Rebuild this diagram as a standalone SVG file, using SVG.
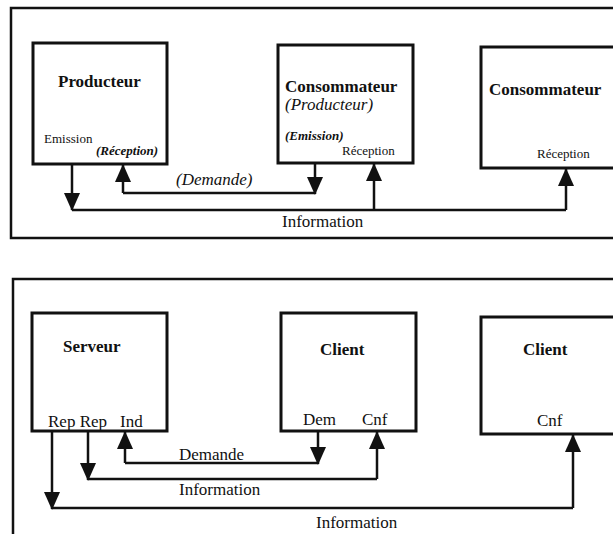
<svg xmlns="http://www.w3.org/2000/svg" width="613" height="534" viewBox="0 0 613 534" font-family="'Liberation Serif', 'Times New Roman', Tinos, 'DejaVu Serif', serif">
<defs>
<marker id="ah" viewBox="0 0 18 16" refX="17" refY="8" markerWidth="18" markerHeight="16" markerUnits="userSpaceOnUse" orient="auto">
<path d="M0,0 L18,8 L0,16 z" fill="#111"/>
</marker>
</defs>
<style>
.frame{fill:none;stroke:#111;stroke-width:2.5}
.box{fill:#fff;stroke:#111;stroke-width:3}
.ln{fill:none;stroke:#111;stroke-width:2.5}
.ar{fill:none;stroke:#111;stroke-width:2.5;marker-end:url(#ah)}
text{font-family:'Liberation Serif','Times New Roman',Tinos,'DejaVu Serif',serif;fill:#111}
.t{font-size:17px;font-weight:bold}
.ti{font-size:17px;font-style:italic}
.l{font-size:17px}
.s{font-size:13px}
.si{font-size:13px;font-style:italic;font-weight:bold}
</style>
<rect width="613" height="534" fill="#fff"/>

<g id="frame-top"><rect class="frame" x="11" y="8" width="620" height="230"/></g>

<g id="producteur">
<rect class="box" x="33" y="43" width="134" height="121"/>
<text class="t" x="58" y="87">Producteur</text>
<text class="s" x="44" y="143">Emission</text>
<text class="si" x="96" y="155">(Réception)</text>
</g>

<g id="consommateur1">
<rect class="box" x="278" y="45" width="135" height="118"/>
<text class="t" x="285" y="92">Consommateur</text>
<text class="ti" x="285" y="110">(Producteur)</text>
<text class="si" x="285" y="140">(Emission)</text>
<text class="s" x="342" y="155">Réception</text>
</g>

<g id="consommateur2">
<rect class="box" x="481" y="47" width="150" height="121"/>
<text class="t" x="489" y="95">Consommateur</text>
<text class="s" x="537" y="158">Réception</text>
</g>

<g id="connectors-top">
<path class="ln" d="M72,210 H566"/>
<path class="ar" d="M72,164 V210"/>
<path class="ar" d="M374,210 V164"/>
<path class="ar" d="M566,210 V169"/>
<path class="ln" d="M123,193 H315"/>
<path class="ar" d="M315,163 V194"/>
<path class="ar" d="M123,193 V165"/>
<text class="ti" x="176" y="185">(Demande)</text>
<text class="l" x="282" y="227">Information</text>
</g>

<g id="frame-bottom"><rect class="frame" x="13" y="279" width="620" height="270"/></g>

<g id="serveur">
<rect class="box" x="32" y="313" width="135" height="118"/>
<text class="t" x="63" y="352">Serveur</text>
<text class="l" x="48" y="427">Rep Rep</text>
<text class="l" x="120" y="427">Ind</text>
</g>

<g id="client1">
<rect class="box" x="281" y="313" width="135" height="118"/>
<text class="t" x="320" y="355">Client</text>
<text class="l" x="303" y="425">Dem</text>
<text class="l" x="362" y="425">Cnf</text>
</g>

<g id="client2">
<rect class="box" x="481" y="317" width="150" height="117"/>
<text class="t" x="523" y="355">Client</text>
<text class="l" x="537" y="426">Cnf</text>
</g>

<g id="connectors-bottom">
<path class="ln" d="M125,463 H318"/>
<path class="ar" d="M318,431 V464"/>
<path class="ar" d="M125,463 V432"/>
<path class="ln" d="M88,479 H377"/>
<path class="ar" d="M88,431 V480"/>
<path class="ar" d="M377,479 V432"/>
<path class="ln" d="M52,508 H573"/>
<path class="ar" d="M52,431 V509"/>
<path class="ar" d="M573,508 V435"/>
<text class="l" x="179" y="460">Demande</text>
<text class="l" x="179" y="495">Information</text>
<text class="l" x="316" y="528">Information</text>
</g>
</svg>
